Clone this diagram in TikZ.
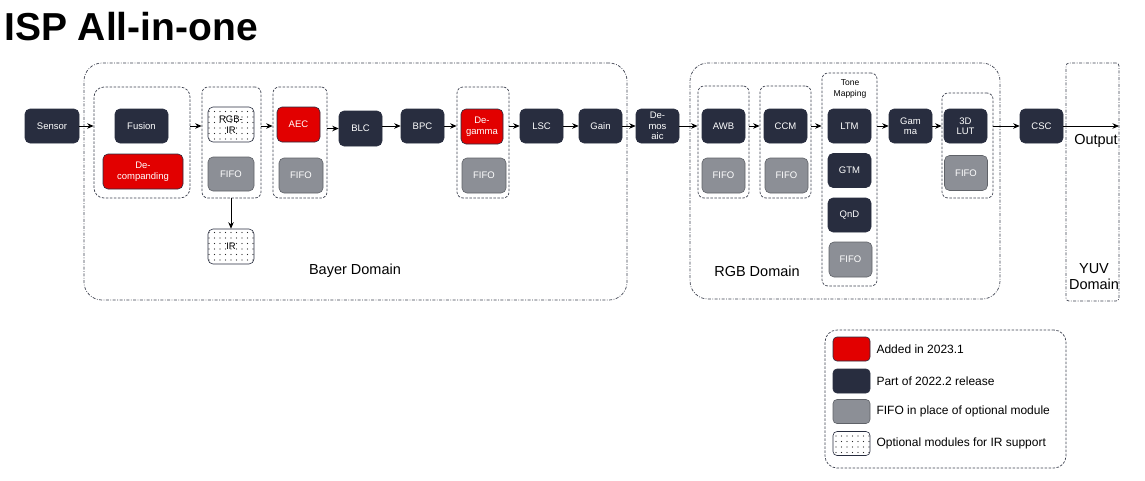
\documentclass[tikz,border=0pt]{standalone}
\usepackage{fontspec}
\setmainfont{Liberation Sans}
\usetikzlibrary{arrows.meta,patterns.meta,positioning}
\definecolor{ispnavy}{RGB}{40,45,63}
\definecolor{ispred}{RGB}{226,0,0}
\definecolor{ispgray}{RGB}{140,143,150}
\definecolor{ispgrayline}{RGB}{95,98,104}
\definecolor{ispline}{RGB}{60,64,78}

\begin{document}
\begin{tikzpicture}[x=1pt,y=-1pt,
  blk/.style={draw=ispnavy, fill=ispnavy, text=white, rounded corners=5pt,
    minimum width=43pt, minimum height=34pt, inner sep=1pt, align=center,
    font=\fontsize{9.5}{10.5}\selectfont, line width=0.6pt},
  newblk/.style={blk, fill=ispred},
  fifo/.style={blk, fill=ispgray, draw=ispgrayline},
  opt/.style={blk, text=black, preaction={fill=white},
    pattern={Dots[distance=5.5pt,radius=0.6pt]}, pattern color=black!85},
  grp/.style={draw=ispline, dash pattern=on 2.5pt off 1.5pt, rounded corners=6pt, line width=0.7pt},
  dom/.style={draw=ispline, dash pattern=on 3pt off 1.5pt on 0.8pt off 1.5pt,
    rounded corners=18pt, line width=0.7pt},
  dlabel/.style={font=\fontsize{14.5}{16}\selectfont, align=center, inner sep=0pt},
  arr/.style={-{Stealth[length=6.5pt,width=5.5pt]}, line width=0.8pt},
]
\useasboundingbox (0,0) rectangle (1145,480);

\node[anchor=base west, inner sep=0pt, font=\fontsize{39}{39}\selectfont\bfseries] (title) at (4,40) {ISP All-in-one};

% domains
\node[dom, minimum width=543pt, minimum height=237pt] (bayer) at (355.5,181.5) {};
\node[dom, minimum width=310pt, minimum height=236pt] (rgbdom) at (845,181) {};
\node[dom, rounded corners=3pt, minimum width=53pt, minimum height=238pt] (yuv) at (1092.5,182) {};
\node[dlabel] (bayerlbl) at (355,271) {Bayer Domain};
\node[dlabel] (rgblbl) at (757,271) {RGB Domain};
\node[dlabel] (yuvlbl) at (1094,277) {YUV\\Domain};

% groups
\node[grp, rounded corners=10pt, minimum width=96pt, minimum height=111pt] (gfus) at (142,142.5) {};
\node[grp, minimum width=59pt, minimum height=111pt] (grgbir) at (231.5,142.5) {};
\node[grp, minimum width=54pt, minimum height=111pt] (gaec) at (300,142.5) {};
\node[grp, minimum width=52pt, minimum height=111pt] (gdeg) at (483,142.5) {};
\node[grp, minimum width=51pt, minimum height=112pt] (gawb) at (723.5,142) {};
\node[grp, minimum width=51pt, minimum height=112pt] (gccm) at (785.5,142) {};
\node[grp, minimum width=55pt, minimum height=213pt] (gtone) at (849.5,179.5) {};
\node[grp, minimum width=51pt, minimum height=105pt] (glut) at (967.5,145.5) {};

% Bayer blocks
\node[blk, minimum width=54pt] (sensor) at (52,126) {Sensor};
\node[blk, minimum width=53pt] (fusion) at (141.5,126) {Fusion};
\node[newblk, minimum width=80pt, minimum height=35pt] (decomp) at (143,171.5) {De-\\companding};
\node[opt, minimum width=46pt, minimum height=35pt] (rgbir) at (231,124.5) {RGB-\\IR};
\node[fifo, minimum width=46pt] (fifoa) at (231,174) {FIFO};
\node[opt, minimum width=46pt, minimum height=35pt] (ir) at (231,246.5) {IR};
\node[newblk, minimum height=35pt] (aec) at (298.5,124.5) {AEC};
\node[fifo, minimum width=44pt, minimum height=35pt] (fifob) at (301,175.5) {FIFO};
\node[blk, minimum height=35pt] (blc) at (360.5,128.5) {BLC};
\node[blk] (bpc) at (422.5,126) {BPC};
\node[newblk, minimum width=42pt, minimum height=35pt] (degamma) at (482,126.5) {De-\\gamma};
\node[fifo, minimum width=44pt, minimum height=35pt] (fifoc) at (484,175.5) {FIFO};
\node[blk] (lsc) at (541.5,126) {LSC};
\node[blk] (gain) at (600.5,126) {Gain};
\node[blk] (demosaic) at (657.5,126) {De-\\mos\\aic};

% RGB blocks
\node[blk] (awb) at (723.5,126) {AWB};
\node[fifo, minimum height=35pt] (fifod) at (723.5,175.5) {FIFO};
\node[blk] (ccm) at (785.5,126) {CCM};
\node[fifo, minimum height=35pt] (fifoe) at (786.5,175.5) {FIFO};
\node[align=center, inner sep=0pt, font=\fontsize{8.5}{11}\selectfont] (tonelbl) at (850,88.5) {Tone\\Mapping};
\node[blk] (ltm) at (849.5,126) {LTM};
\node[blk] (gtm) at (849.5,170.5) {GTM};
\node[blk] (qnd) at (849.5,215) {QnD};
\node[fifo, minimum height=35pt] (fifof) at (850.5,259.5) {FIFO};
\node[blk] (gamma) at (910.5,126) {Gam\\ma};
\node[blk] (lut) at (965.5,126) {3D\\LUT};
\node[fifo, minimum height=35pt] (fifog) at (966,173) {FIFO};
\node[blk] (csc) at (1041.5,126) {CSC};
\coordinate (outend) at (1119,126);
\node[dlabel] (outlbl) at (1096,141) {Output};

% connectors
\draw[arr] (sensor) -- (gfus.west |- sensor);
\draw[arr] (gfus.east |- fusion) -- (grgbir.west |- fusion);
\draw[arr] (grgbir.south -| ir) -- (ir);
\draw[arr] (grgbir.east |- fusion) -- (gaec.west |- fusion);
\draw[arr] (gaec.east |- blc) -- (blc);
\draw[arr] (blc.east |- bpc) -- (bpc);
\draw[arr] (bpc) -- (gdeg.west |- bpc);
\draw[arr] (gdeg.east |- lsc) -- (lsc);
\draw[arr] (lsc) -- (gain);
\draw[arr] (gain) -- (demosaic);
\draw[arr] (demosaic) -- (gawb.west |- demosaic);
\draw[arr] (gawb.east |- awb) -- (gccm.west |- awb);
\draw[arr] (gccm.east |- ccm) -- (gtone.west |- ccm);
\draw[arr] (gtone.east |- ltm) -- (gamma);
\draw[arr] (gamma) -- (glut.west |- gamma);
\draw[arr] (glut.east |- lut) -- (csc);
\draw[arr] (csc) -- (outend);

% legend
\node[grp, rounded corners=12pt, minimum width=241pt, minimum height=138pt] (legend) at (945.5,399) {};
\foreach \s/\y/\t [count=\i] in {newblk/349/Added in 2023.1, blk/381/Part of 2022.2 release,
    fifo/411.5/FIFO in place of optional module, opt/443.5/Optional modules for IR support}
  {\node[\s, minimum width=37pt, minimum height=24pt, rounded corners=4pt] (key\i) at (851.5,\y) {};
   \node[right=5pt of key\i, inner sep=1pt, font=\fontsize{12}{14}\selectfont] (keylbl\i) {\t};}

\end{tikzpicture}
\end{document}
